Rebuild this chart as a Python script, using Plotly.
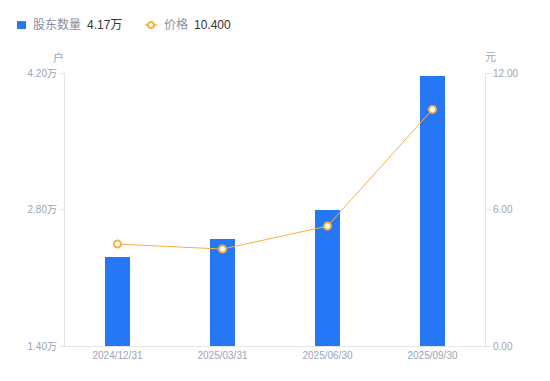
import plotly.graph_objects as go

dates = ["2024/12/31", "2025/03/31", "2025/06/30", "2025/09/30"]
holders = [2.31, 2.50, 2.79, 4.17]   # 万户
price = [4.48, 4.26, 5.27, 10.40]    # 元

left_ticks = [1.40, 2.80, 4.20]
left_text = ["1.40万", "2.80万", "4.20万"]
right_ticks = [0, 6, 12]
right_text = ["0.00", "6.00", "12.00"]

BLUE = "#2677F5"
ORANGE = "#F7B13C"
GRAY = "#9EA3B5"
AXIS = "#E3E5EA"
FONT = "Liberation Sans, Noto Sans CJK SC, sans-serif"

fig = go.Figure()
fig.add_trace(go.Bar(x=dates, y=holders, marker=dict(color=BLUE, line=dict(width=0)),
                     width=0.24, yaxis="y", showlegend=False))
fig.add_trace(go.Scatter(x=dates, y=price, yaxis="y2", mode="lines+markers",
                         line=dict(color=ORANGE, width=1),
                         marker=dict(size=7, color="white", line=dict(color=ORANGE, width=2)),
                         showlegend=False))

fig.update_layout(
    width=550, height=381,
    margin=dict(l=57, r=73, t=65, b=43),
    plot_bgcolor="white", paper_bgcolor="white",
    font=dict(family=FONT, size=10, color=GRAY),
    xaxis=dict(showline=True, linecolor=AXIS, linewidth=1, showgrid=False,
               ticks="", tickfont=dict(size=10, color=GRAY), zeroline=False),
    yaxis=dict(range=[1.4, 4.2], tickvals=left_ticks, ticktext=left_text,
               showline=True, linecolor=AXIS, showgrid=False, zeroline=False,
               ticks="outside", ticklen=5, tickcolor=AXIS, tickfont=dict(size=10, color=GRAY)),
    yaxis2=dict(range=[0, 12], tickvals=right_ticks, ticktext=right_text,
                overlaying="y", side="right",
                showline=True, linecolor=AXIS, showgrid=False, zeroline=False,
                ticks="outside", ticklen=5, tickcolor=AXIS, tickfont=dict(size=10, color=GRAY)),
    bargap=0,
)

# axis unit titles
fig.add_annotation(text="户", xref="paper", yref="paper", x=0, y=1, yshift=16, xshift=-7,
                   showarrow=False, font=dict(size=11, color=GRAY), xanchor="center", yanchor="middle")
fig.add_annotation(text="元", xref="paper", yref="paper", x=1, y=1, yshift=16, xshift=5,
                   showarrow=False, font=dict(size=11, color=GRAY), xanchor="center", yanchor="middle")

# legend
LY = 1.176
fig.add_shape(type="rect", xref="paper", yref="paper",
              x0=-0.1143, x1=-0.0929, y0=1.161, y1=1.190,
              fillcolor=BLUE, line=dict(width=0))
fig.add_annotation(text="股东数量", xref="paper", yref="paper", x=-0.0810, y=LY,
                   showarrow=False, xanchor="left", yanchor="middle",
                   font=dict(size=12, color="#8A8F9F"))
fig.add_annotation(text=f"{holders[-1]:.2f}万", xref="paper", yref="paper", x=0.0476, y=LY,
                   showarrow=False, xanchor="left", yanchor="middle",
                   font=dict(size=12, color="#333333"))
fig.add_shape(type="line", xref="paper", yref="paper", x0=0.1905, x1=0.2190, y0=LY, y1=LY,
              line=dict(color=ORANGE, width=1.5))
fig.add_shape(type="circle", xref="paper", yref="paper", x0=0.1976, x1=0.2119,
              y0=LY - 0.011, y1=LY + 0.011,
              fillcolor="white", line=dict(color=ORANGE, width=2))
fig.add_annotation(text="价格", xref="paper", yref="paper", x=0.2310, y=LY,
                   showarrow=False, xanchor="left", yanchor="middle",
                   font=dict(size=12, color="#8A8F9F"))
fig.add_annotation(text=f"{price[-1]:.3f}", xref="paper", yref="paper", x=0.3024, y=LY,
                   showarrow=False, xanchor="left", yanchor="middle",
                   font=dict(size=12, color="#333333"))

fig.write_html("out.html")
